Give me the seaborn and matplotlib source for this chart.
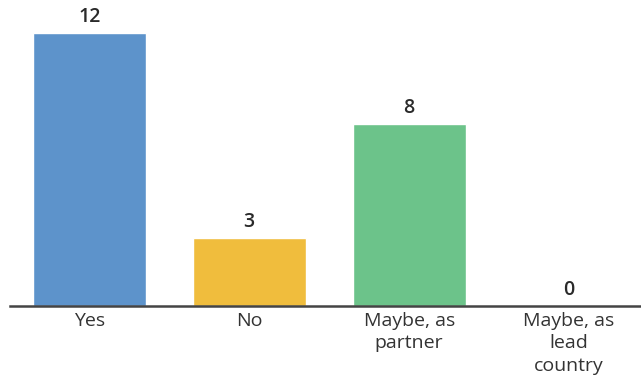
import matplotlib
matplotlib.use("Agg")
import matplotlib.pyplot as plt
import seaborn as sns
import pandas as pd

categories = ["Yes", "No", "Maybe, as\npartner", "Maybe, as\nlead\ncountry"]
values = [12, 3, 8, 0]
colors = ["#5d93cb", "#f0bd3d", "#6cc38a", "#9b9b9b"]

sns.set_theme(style="white")
plt.rcParams['font.family'] = ['Open Sans', 'DejaVu Sans']

df = pd.DataFrame({"cat": categories, "val": values})

fig = plt.figure(figsize=(6.41, 3.79), dpi=100)
ax = fig.add_axes([10/641, 73/379, 631/641, 306/379])
sns.barplot(data=df, x="cat", y="val", hue="cat", palette=colors, legend=False,
            width=0.705, ax=ax, saturation=1)

ax.set_xlim(-0.496, 3.45)
ax.set_ylim(0, 13.45)
ax.set_xlabel("")
ax.set_ylabel("")
ax.set_yticks([])
for s in ["top", "right", "left"]:
    ax.spines[s].set_visible(False)
ax.spines["bottom"].set_color("#444444")
ax.spines["bottom"].set_linewidth(1.8)
ax.tick_params(axis="x", length=0, pad=4, labelsize=14, colors="#333333")
for lbl in ax.get_xticklabels():
    lbl.set_linespacing(1.32)
    lbl.set_verticalalignment("top")
    lbl.set_fontweight("medium")

for i, v in enumerate(values):
    ax.annotate(str(v), (i, v), xytext=(0, 4), textcoords="offset points",
                ha="center", va="bottom", fontsize=14, color="#2a2a2a",
                fontweight="semibold")

fig.savefig("out.png", dpi=100)
